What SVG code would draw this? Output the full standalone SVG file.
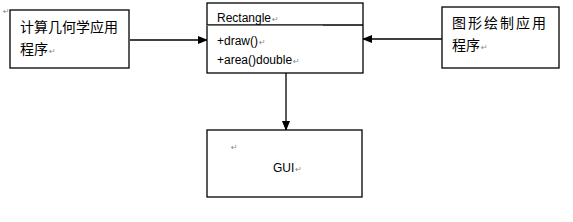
<svg xmlns="http://www.w3.org/2000/svg" width="573" height="222" viewBox="0 0 573 222">
<style>
.box{fill:#fff;stroke:#000;stroke-width:1.3}
.cn{font-family:"Noto Sans CJK SC","Noto Sans CJK JP",sans-serif;font-size:14px;fill:#000}
.en{font-family:"Liberation Sans","DejaVu Sans",sans-serif;font-size:12px;fill:#000}
.ret{font-family:"DejaVu Sans",sans-serif;font-size:8px;fill:#888}
.conn{stroke:#000;stroke-width:1.3;fill:none}
</style>
<defs>
<marker id="ah" markerWidth="10" markerHeight="8" refX="9" refY="4" orient="auto" markerUnits="userSpaceOnUse">
<path d="M0,0 L10,4 L0,8 Z" fill="#000"/>
</marker>
</defs>
<rect width="573" height="222" fill="#fff"/>
<text class="ret" x="3" y="14">↵</text>
<g id="connectors">
<line class="conn" x1="130" y1="40" x2="207" y2="40" marker-end="url(#ah)"/>
<line class="conn" x1="442" y1="39" x2="363" y2="39" marker-end="url(#ah)"/>
<line class="conn" x1="286" y1="73" x2="286" y2="130" marker-end="url(#ah)"/>
</g>
<g id="app-geometry">
<rect class="box" x="10" y="10" width="119" height="58"/>
<text class="cn" x="20" y="32">计算几何学应用</text>
<text class="cn" x="20" y="54">程序<tspan class="ret" dx="1">↵</tspan></text>
</g>
<g id="rectangle">
<rect class="box" x="207" y="3" width="156" height="70"/>
<line x1="207" y1="25" x2="363" y2="25" stroke="#000" stroke-width="1.3"/>
<line x1="206" y1="25.5" x2="323" y2="25.5" stroke="#777" stroke-width="1"/>
<text class="en" x="217" y="22">Rectangle<tspan class="ret" dx="1">↵</tspan></text>
<text class="en" x="217" y="45">+draw()<tspan class="ret" dx="1">↵</tspan></text>
<text class="en" x="217" y="64">+area()double<tspan class="ret" dx="1">↵</tspan></text>
</g>
<g id="app-drawing">
<rect class="box" x="442" y="7" width="117" height="61"/>
<text class="cn" x="452" y="28" letter-spacing="2">图形绘制应用</text>
<text class="cn" x="452" y="50">程序<tspan class="ret" dx="1">↵</tspan></text>
</g>
<g id="gui">
<rect class="box" x="207" y="130" width="155" height="67"/>
<text class="ret" x="231" y="150">↵</text>
<text class="en" x="273" y="172">GUI<tspan class="ret" dx="1">↵</tspan></text>
</g>
</svg>
